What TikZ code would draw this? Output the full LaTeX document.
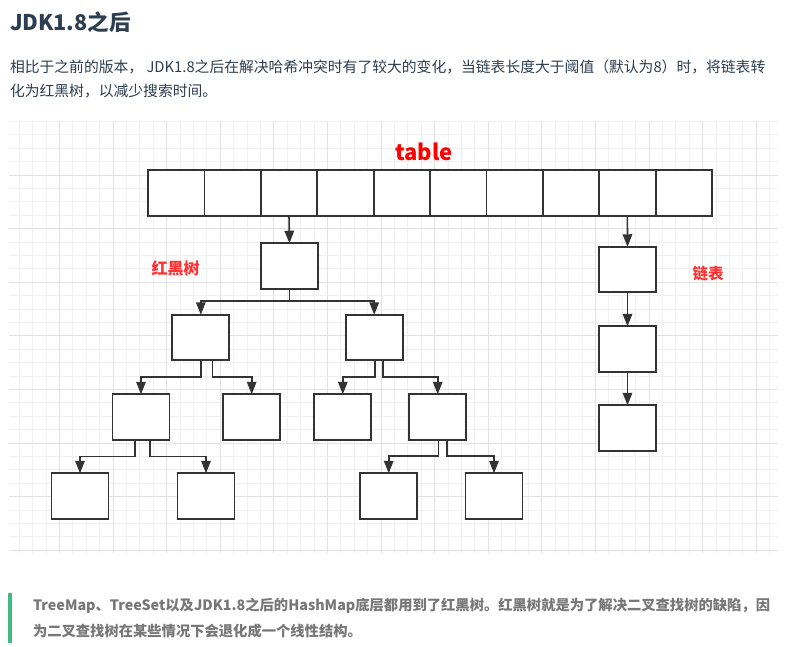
\documentclass[tikz,border=0pt]{standalone}
\usepackage{fontspec}
\setmainfont{Noto Sans CJK SC}
\usetikzlibrary{arrows.meta,calc}
\definecolor{boxc}{HTML}{333333}
\definecolor{headc}{HTML}{2C3E50}
\definecolor{quotec}{HTML}{777777}
\definecolor{barc}{HTML}{42B983}
\definecolor{minorg}{HTML}{F0F0F0}
\definecolor{majorg}{HTML}{E2E2E2}
\definecolor{lblred}{HTML}{FF3333}
\tikzset{
  bx/.style={draw=boxc, line width=1.8pt, fill=white, minimum width=57pt, minimum height=45.5pt, inner sep=0pt, outer sep=0pt},
  cell/.style={bx, minimum width=56.4pt, minimum height=46pt},
  arr/.style={draw=boxc, line width=1.6pt, -{Triangle[length=12.5pt,width=9.5pt]}},
  minorline/.style={draw=minorg, line width=0.7pt},
  majorline/.style={draw=majorg, line width=0.8pt},
  txt/.style={anchor=west, inner sep=0pt, outer sep=0pt}
}
\begin{document}
\begin{tikzpicture}[x=1pt,y=-1pt]
\useasboundingbox (0,0) rectangle (786,646);
\fill[white] (0,0) rectangle (786,646);
% grid
\begin{scope}
\clip (9,121) rectangle (778,553);
\foreach \k in {0,...,57} \draw[minorline] ({19.1+13.4*\k},121) -- ({19.1+13.4*\k},553);
\foreach \k in {-1,...,31} \draw[minorline] (9,{134.8+13.4*\k}) -- (778,{134.8+13.4*\k});
\foreach \k in {0,...,14} \draw[majorline] ({59.3+53.6*\k},121) -- ({59.3+53.6*\k},553);
\foreach \k in {0,...,7} \draw[majorline] (9,{175+53.6*\k}) -- (778,{175+53.6*\k});
\end{scope}
% title and paragraph
\node[txt, text=headc, font=\fontsize{21.6}{25}\selectfont\bfseries] (title) at (10,22) {JDK1.8之后};
\node[txt, text=headc, font=\fontsize{14.8}{17}\selectfont] (p1) at (10,67) {相比于之前的版本， JDK1.8之后在解决哈希冲突时有了较大的变化，当链表长度大于阈值（默认为8）时，将链表转};
\node[txt, text=headc, font=\fontsize{14.8}{17}\selectfont] (p2) at (10,91) {化为红黑树，以减少搜索时间。};
% table
\foreach \i in {1,...,10} \node[cell] (t\i) at ({148+56.4*(\i-0.5)},193) {};
\node[text=red, font=\fontsize{22}{26}\selectfont\bfseries] (tlabel) at (424,152) {table};
% tree
\node[bx] (root) at (289.5,266) {};
\node[bx] (L) at (200.8,337.5) {};
\node[bx] (R) at (374.2,337.5) {};
\node[bx] (LL) at (141,417) {};
\node[bx] (LR) at (251.7,417) {};
\node[bx] (RL) at (342.8,417) {};
\node[bx] (RR) at (437.7,417) {};
\node[bx] (LLL) at (80,496) {};
\node[bx] (LLR) at (206,496) {};
\node[bx] (RRL) at (388.7,496) {};
\node[bx] (RRR) at (494,496) {};
\node[text=lblred, font=\fontsize{16}{19}\selectfont\bfseries] (rbt) at (175.7,268) {红黑树};
% list
\node[bx] (b1) at (627.5,269.5) {};
\node[bx] (b2) at (627.5,349) {};
\node[bx] (b3) at (627.5,428) {};
\node[text=lblred, font=\fontsize{15.5}{19}\selectfont\bfseries] (ll) at (708,274) {链表};
% connectors
\draw[arr] (t3.south) -- (root.north);
\draw[arr] (root.south) -- ++(0,12) -| (L.north);
\draw[arr] (root.south) -- ++(0,12) -| (R.north);
\draw[arr] (L.south) -- ++(0,17) -| (LL.north);
\draw[arr] ([xshift=11.5pt]L.south) -- ++(0,17) -| (LR.north);
\draw[arr] ([xshift=-6pt]LL.south) -- ++(0,16.7) -| (LLL.north);
\draw[arr] ([xshift=9pt]LL.south) -- ++(0,16.7) -| (LLR.north);
\draw[arr] ([xshift=1pt]R.south) -- ++(0,17) -| (RL.north);
\draw[arr] ([xshift=9pt]R.south) -- ++(0,17) -| (RR.north);
\draw[arr] ([xshift=0.6pt]RR.south) -- ++(0,16) -| (RRL.north);
\draw[arr] ([xshift=9pt]RR.south) -- ++(0,16) -| (RRR.north);
\draw[arr] (t9.south) -- (b1.north);
\draw[arr] (b1.south) -- (b2.north);
\draw[arr] (b2.south) -- (b3.north);
% quote
\fill[barc] (8.3,593) rectangle (12.3,643);
\node[txt, text=quotec, font=\fontsize{14.3}{17}\selectfont\bfseries] (q1) at (33,606) {TreeMap、TreeSet以及JDK1.8之后的HashMap底层都用到了红黑树。红黑树就是为了解决二叉查找树的缺陷，因};
\node[txt, text=quotec, font=\fontsize{14.3}{17}\selectfont\bfseries] (q2) at (33,631) {为二叉查找树在某些情况下会退化成一个线性结构。};
\end{tikzpicture}
\end{document}
